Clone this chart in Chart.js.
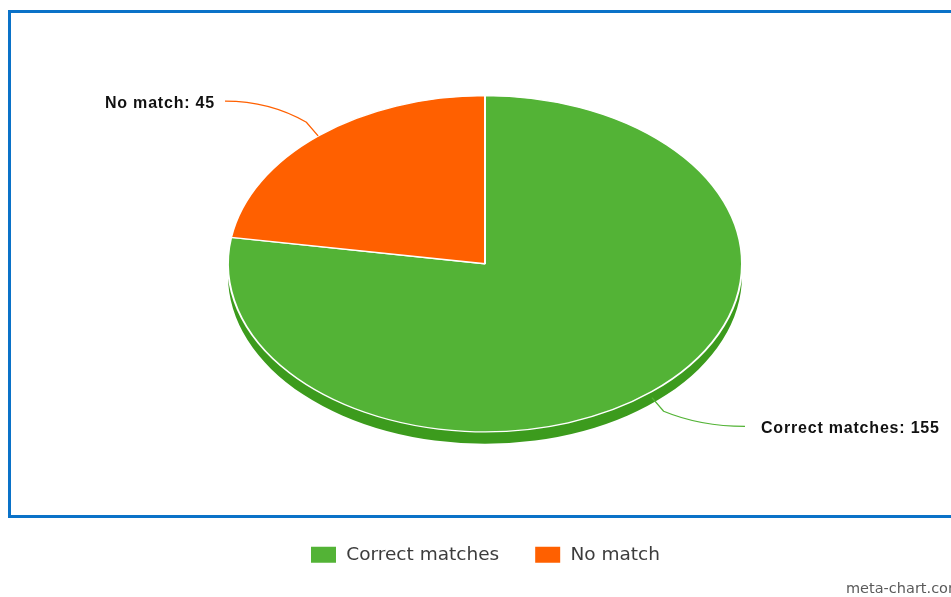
<!DOCTYPE html>
<html>
<head>
<meta charset="utf-8">
<script src="https://cdn.jsdelivr.net/npm/chart.js@4/dist/chart.umd.min.js"></script>
<style>
  html, body { margin: 0; padding: 0; background: #fff; overflow: hidden; }
  #wrap { position: relative; width: 951px; height: 597px; }
  #frame {
    position: absolute; left: 8px; top: 10px; width: 1000px; height: 508px;
    box-sizing: border-box; border: 3px solid #0a72c8;
  }
  #chartBox { position: absolute; left: 0; top: 0; width: 951px; height: 597px; }
  #credit {
    position: absolute; left: 846px; top: 581px; white-space: nowrap;
    font: 14.5px/1 "DejaVu Sans", sans-serif; color: #5a5a5a;
  }
</style>
</head>
<body>
<div id="wrap">
  <div id="frame"></div>
  <div id="chartBox"><canvas id="pie"></canvas></div>
  <div id="credit">meta-chart.com</div>
</div>
<script>
const categories = ['Correct matches', 'No match'];
const counts = [155, 45];
const faceColors = ['#53b336', '#ff6000'];
const sideColors = ['#3c9b1d', '#c44a00'];

const tilt = 0.654;   // vertical squash of the pie
const depth = 12;     // thickness of the side wall in px

// squash the pie into an ellipse and draw a darker wall below it
const ellipsePie = {
  id: 'ellipsePie',
  beforeDatasetsDraw(chart) {
    const ctx = chart.ctx;
    const arcs = chart.getDatasetMeta(0).data;
    const cx = arcs[0].x, cy = arcs[0].y;
    ctx.save();
    ctx.translate(cx, cy);
    ctx.scale(1, tilt);
    ctx.translate(-cx, -cy);
    arcs.forEach((arc, i) => {
      const oy = arc.y + depth / tilt;
      ctx.beginPath();
      ctx.moveTo(arc.x, oy);
      ctx.arc(arc.x, oy, arc.outerRadius, arc.startAngle, arc.endAngle);
      ctx.closePath();
      ctx.fillStyle = sideColors[i];
      ctx.fill();
    });
  },
  afterDatasetsDraw(chart) {
    chart.ctx.restore();
  }
};

// "name: value" labels with curved connectors
const sliceLabels = {
  id: 'sliceLabels',
  afterDraw(chart) {
    const ctx = chart.ctx;
    const arcs = chart.getDatasetMeta(0).data;
    ctx.save();
    arcs.forEach((arc, i) => {
      const a = (arc.startAngle + arc.endAngle) / 2;
      const c = Math.cos(a), s = Math.sin(a);
      const r = arc.outerRadius;
      const ax = arc.x + r * c;
      const ay = arc.y + r * tilt * s + (s > 0 ? depth * 0.5 : 0);
      const ex = ax + c * 18, ey = ay + s * 18;
      const side = c < 0 ? -1 : 1;
      const tx = arc.x + side * (r + 3);
      const ty = arc.y + s * (r + 70) * tilt;
      ctx.beginPath();
      ctx.moveTo(ax, ay);
      ctx.lineTo(ex, ey);
      ctx.quadraticCurveTo(ex + (tx - ex) * 0.45, ty, tx, ty);
      ctx.strokeStyle = faceColors[i];
      ctx.lineWidth = 1.3;
      ctx.stroke();

      ctx.font = 'bold 16px "Liberation Sans", Arial, sans-serif';
      ctx.letterSpacing = '0.8px';
      ctx.fillStyle = '#111';
      ctx.textBaseline = 'middle';
      ctx.textAlign = side < 0 ? 'right' : 'left';
      const gap = side < 0 ? 10 : 16;
      ctx.fillText(`${categories[i]}: ${counts[i]}`, tx + side * gap, ty + 2.5);
    });
    ctx.restore();
  }
};

new Chart(document.getElementById('pie'), {
  type: 'pie',
  data: {
    labels: categories,
    datasets: [{
      data: counts,
      backgroundColor: faceColors,
      borderColor: '#fff',
      borderWidth: 2,
      radius: 257
    }]
  },
  options: {
    responsive: true,
    maintainAspectRatio: false,
    animation: false,
    layout: { padding: { left: 228, right: 209, top: 17, bottom: 23 } },
    plugins: {
      tooltip: { enabled: false },
      legend: {
        position: 'bottom',
        labels: {
          boxWidth: 27,
          boxHeight: 18,
          padding: 35,
          color: '#3c3c3c',
          font: { family: '"DejaVu Sans", sans-serif', size: 18.5 }
        }
      }
    }
  },
  plugins: [ellipsePie, sliceLabels]
});
</script>
</body>
</html>
